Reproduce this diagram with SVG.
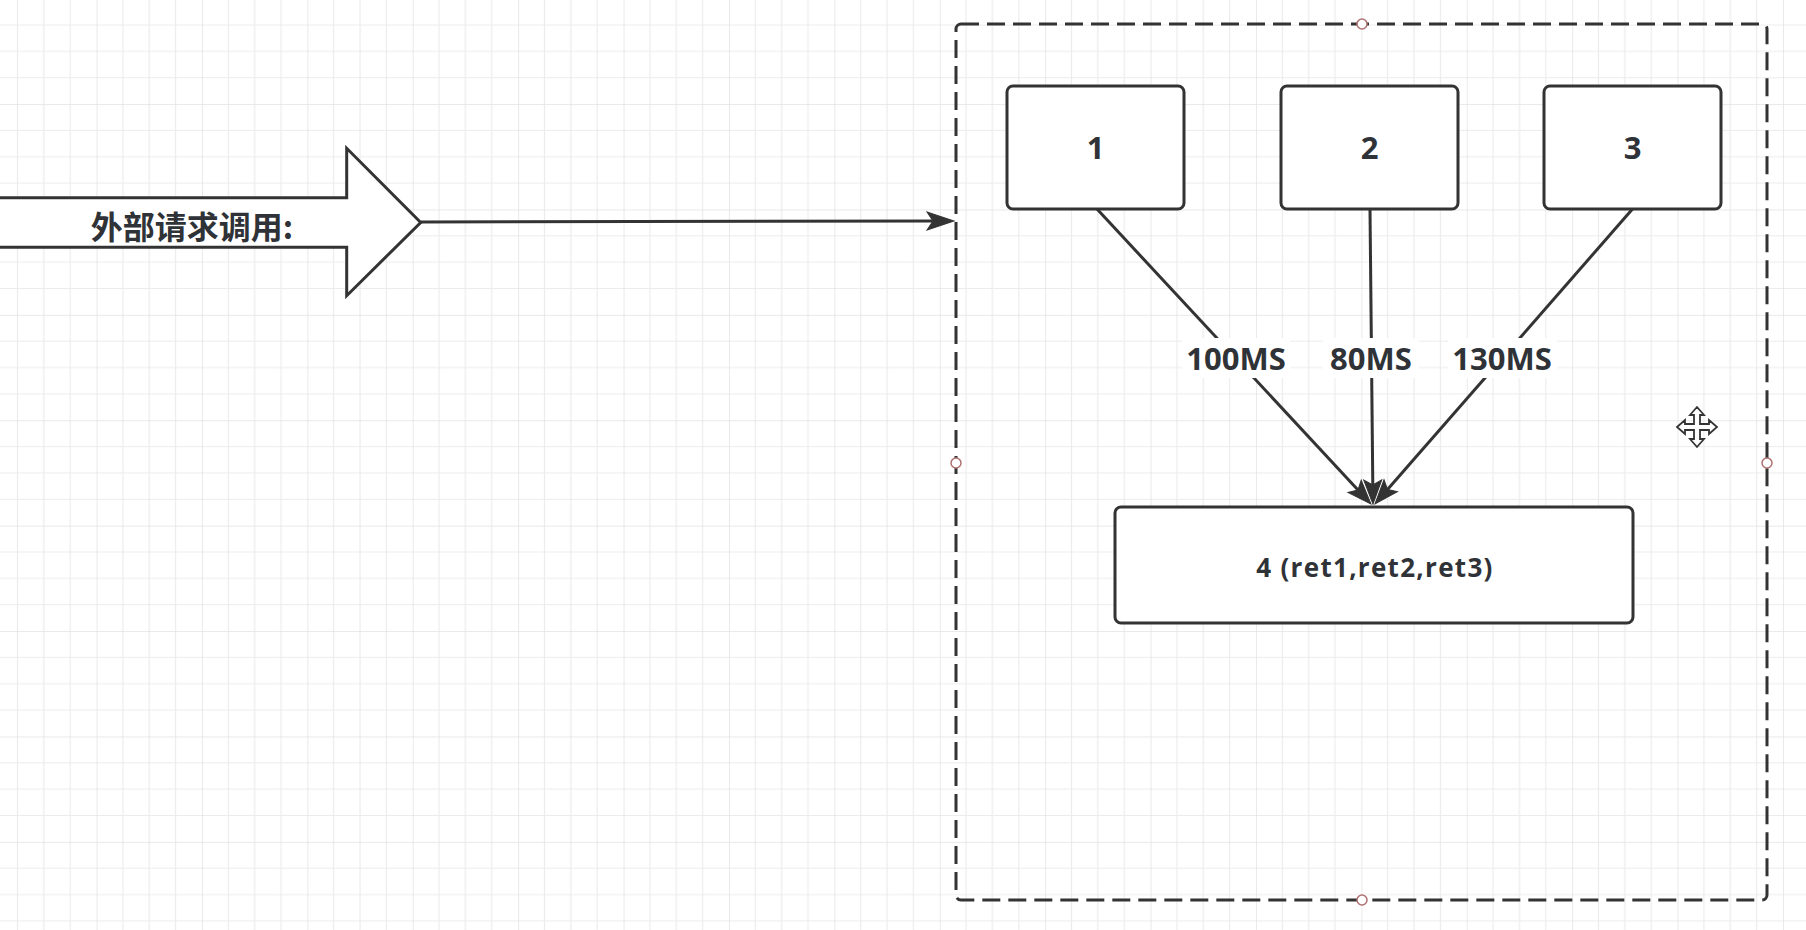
<svg xmlns="http://www.w3.org/2000/svg" width="1806" height="930" viewBox="0 0 1806 930">
  <style>
    .box { fill: #ffffff; stroke: #333333; stroke-width: 3; }
    .edge { fill: none; stroke: #333333; stroke-width: 3; }
    .lbl { font-family: "Open Sans", "Noto Sans", "Liberation Sans", sans-serif; font-weight: bold; fill: #2f3338; text-anchor: middle; }
    .handle { fill: #ffffff; stroke: #b07070; stroke-width: 1.5; }
  </style>
  <defs>
    <pattern id="grid" patternUnits="userSpaceOnUse" x="-8.85" y="-1.35" width="105.4" height="105.4">
      <path d="M26.35,0 V105.4 M52.7,0 V105.4 M79.05,0 V105.4 M0,26.35 H105.4 M0,52.7 H105.4 M0,79.05 H105.4" stroke="#ececec" stroke-width="1.2" fill="none"/>
      <path d="M0,0 V105.4 M0,0 H105.4" stroke="#e2e2e2" stroke-width="1.5" fill="none"/>
    </pattern>
    <marker id="arrowBig" markerUnits="userSpaceOnUse" orient="auto" refX="0" refY="0" markerWidth="60" markerHeight="60" viewBox="-10 -30 60 60" overflow="visible">
      <path d="M-6,-9 L21,0 L-6,9 L0,0 Z" fill="#333333" stroke="#333333" stroke-width="1"/>
    </marker>
    <marker id="arrowSm" markerUnits="userSpaceOnUse" orient="auto" refX="0" refY="0" markerWidth="60" markerHeight="60" viewBox="-10 -30 60 60" overflow="visible">
      <path d="M-5,-9 L19,0 L-5,9 L0,0 Z" fill="#333333" stroke="#333333" stroke-width="1"/>
    </marker>
  </defs>

  <rect x="0" y="0" width="1806" height="930" fill="#ffffff"/>
  <rect x="0" y="0" width="1806" height="930" fill="url(#grid)"/>

  <g id="container">
    <rect x="956" y="24" width="811" height="876" rx="5" ry="5" fill="none" stroke="#333333" stroke-width="3" stroke-dasharray="18 8"/>
  </g>

  <g id="external-call">
    <polygon points="-5,197.7 346.7,197.7 346.7,148.3 420.7,222.5 346.7,295.7 346.7,247.3 -5,247.3" fill="#ffffff" stroke="#333333" stroke-width="3" stroke-linejoin="miter"/>
    <text x="192" y="239" font-family="'Noto Sans CJK SC', 'Noto Sans', sans-serif" font-weight="bold" font-size="32" fill="#2f3338" text-anchor="middle">外部请求调用:</text>
  </g>

  <g id="connectors">
    <path class="edge" d="M421,222 L933,221" marker-end="url(#arrowBig)"/>
    <path class="edge" d="M1097,209 L1358,490" marker-end="url(#arrowSm)"/>
    <path class="edge" d="M1370,209 L1372.8,485" marker-end="url(#arrowSm)"/>
    <path class="edge" d="M1632.5,209 L1387.5,489.5" marker-end="url(#arrowSm)"/>
    <rect x="1182" y="338" width="108" height="40" fill="#ffffff"/>
    <rect x="1323" y="338" width="96" height="40" fill="#ffffff"/>
    <rect x="1448" y="338" width="109" height="40" fill="#ffffff"/>
    <text class="lbl" x="1236" y="370" font-size="31">100MS</text>
    <text class="lbl" x="1371" y="370" font-size="31">80MS</text>
    <text class="lbl" x="1502" y="370" font-size="31">130MS</text>
  </g>

  <g id="node1">
    <rect class="box" x="1007" y="86" width="177" height="123" rx="6" ry="6"/>
    <text class="lbl" x="1095.5" y="159" font-size="31">1</text>
  </g>
  <g id="node2">
    <rect class="box" x="1281" y="86" width="177" height="123" rx="6" ry="6"/>
    <text class="lbl" x="1369.5" y="159" font-size="31">2</text>
  </g>
  <g id="node3">
    <rect class="box" x="1544" y="86" width="177" height="123" rx="6" ry="6"/>
    <text class="lbl" x="1632.5" y="159" font-size="31">3</text>
  </g>
  <g id="node4">
    <rect class="box" x="1115" y="507" width="518" height="116" rx="6" ry="6"/>
    <text class="lbl" x="1375" y="577" font-size="26" letter-spacing="1.3">4 (ret1,ret2,ret3)</text>
  </g>

  <g id="handles">
    <circle class="handle" cx="1362" cy="24" r="5"/>
    <circle class="handle" cx="956" cy="463" r="5"/>
    <circle class="handle" cx="1767" cy="463" r="5"/>
    <circle class="handle" cx="1362" cy="900" r="5"/>
  </g>

  <g id="move-cursor" transform="translate(1697,427)">
    <polygon points="0,-20 7,-12 3,-12 3,-3 12,-3 12,-7 20,0 12,7 12,3 3,3 3,12 7,12 0,20 -7,12 -3,12 -3,3 -12,3 -12,7 -20,0 -12,-7 -12,-3 -3,-3 -3,-12 -7,-12" fill="#ffffff" stroke="#333333" stroke-width="1.8" stroke-linejoin="miter"/>
  </g>
</svg>
